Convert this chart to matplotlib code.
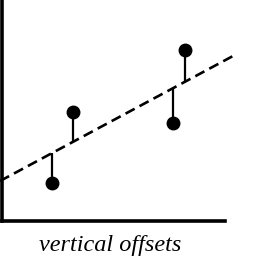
import numpy as np
from matplotlib import pyplot as plt

# data points and the fitted line
x_pts = [50, 71, 171, 183]
y_pts = [38, 109, 98, 171]
line_x = [-2, 231]
line_y = [40, 165]
label = 'vertical offsets'

fig = plt.figure(figsize=(2.70, 2.58), dpi=100)
ax = fig.add_axes([2 / 270, 37 / 258, 223 / 270, 221 / 258])
ax.set_xlim(0, 223)
ax.set_ylim(0, 221)

# fitted line
ax.plot(line_x, line_y, color='black', lw=1.9, dashes=(3.9, 2.1), clip_on=False)

# vertical offsets from each point to the line
fit_y = np.interp(x_pts, line_x, line_y)
ax.vlines(x_pts, y_pts, fit_y, color='black', lw=1.6)
ax.plot(x_pts, y_pts, 'o', color='black', ms=9, clip_on=False)

for side in ['top', 'right']:
    ax.spines[side].set_visible(False)
for side in ['left', 'bottom']:
    ax.spines[side].set_linewidth(2.6)
ax.set_xticks([])
ax.set_yticks([])

fig.text(110 / 270, 1 - 245 / 258, label, ha='center', va='center',
         family='Liberation Serif', style='italic', fontsize=17.5)

plt.savefig('out.png', dpi=100)
